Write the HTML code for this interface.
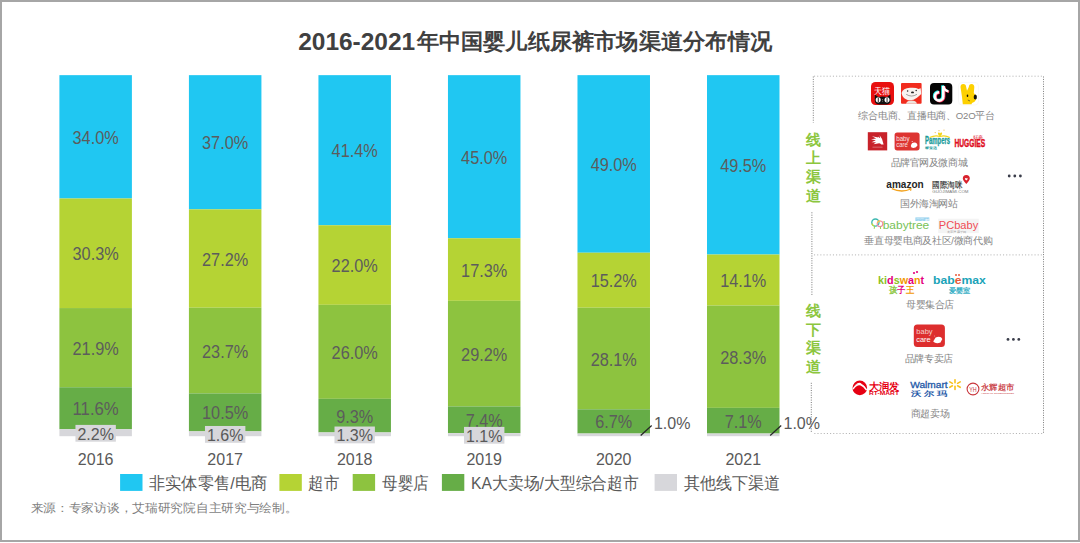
<!DOCTYPE html>
<html><head><meta charset="utf-8"><style>
html,body{margin:0;padding:0;background:#fff;width:1080px;height:543px;overflow:hidden;font-family:"Liberation Sans",sans-serif}
#frame{position:absolute;left:0;top:0;width:1076px;height:538px;border:2px solid #a6a6a6}
svg{position:absolute;left:0;top:0}
</style></head><body>
<div id="frame"></div>
<svg width="1080" height="543" viewBox="0 0 1080 543">
<text x="298.2" y="49.7" font-family="Liberation Sans" font-size="24" font-weight="bold" fill="#404040" textLength="117" lengthAdjust="spacingAndGlyphs">2016-2021</text><text x="416.5" y="49.1" font-family="Liberation Sans" font-size="22.2" font-weight="bold" fill="#404040" textLength="355.5" lengthAdjust="spacingAndGlyphs">年中国婴儿纸尿裤市场渠道分布情况</text>
<rect x="59.40" y="75.15" width="72.50" height="123.34" fill="#20c7f2"/>
<rect x="59.40" y="198.49" width="72.50" height="109.56" fill="#b5d334"/>
<rect x="59.40" y="308.06" width="72.50" height="79.19" fill="#8dc33f"/>
<rect x="59.40" y="387.25" width="72.50" height="41.95" fill="#66ad47"/>
<rect x="59.40" y="429.19" width="72.50" height="7.01" fill="#d7d7db"/>
<rect x="188.92" y="75.15" width="72.50" height="134.19" fill="#20c7f2"/>
<rect x="188.92" y="209.34" width="72.50" height="98.36" fill="#b5d334"/>
<rect x="188.92" y="307.70" width="72.50" height="85.70" fill="#8dc33f"/>
<rect x="188.92" y="393.40" width="72.50" height="37.97" fill="#66ad47"/>
<rect x="188.92" y="431.36" width="72.50" height="4.84" fill="#d7d7db"/>
<rect x="318.44" y="75.15" width="72.50" height="150.10" fill="#20c7f2"/>
<rect x="318.44" y="225.25" width="72.50" height="79.55" fill="#b5d334"/>
<rect x="318.44" y="304.80" width="72.50" height="94.02" fill="#8dc33f"/>
<rect x="318.44" y="398.82" width="72.50" height="33.63" fill="#66ad47"/>
<rect x="318.44" y="432.45" width="72.50" height="3.75" fill="#d7d7db"/>
<rect x="447.96" y="75.15" width="72.50" height="163.12" fill="#20c7f2"/>
<rect x="447.96" y="238.27" width="72.50" height="62.56" fill="#b5d334"/>
<rect x="447.96" y="300.83" width="72.50" height="105.59" fill="#8dc33f"/>
<rect x="447.96" y="406.41" width="72.50" height="26.76" fill="#66ad47"/>
<rect x="447.96" y="433.17" width="72.50" height="3.03" fill="#d7d7db"/>
<rect x="577.48" y="75.15" width="72.50" height="177.58" fill="#20c7f2"/>
<rect x="577.48" y="252.73" width="72.50" height="54.96" fill="#b5d334"/>
<rect x="577.48" y="307.70" width="72.50" height="101.61" fill="#8dc33f"/>
<rect x="577.48" y="409.31" width="72.50" height="24.23" fill="#66ad47"/>
<rect x="577.48" y="433.53" width="72.50" height="2.67" fill="#d7d7db"/>
<rect x="707.00" y="75.15" width="72.50" height="179.39" fill="#20c7f2"/>
<rect x="707.00" y="254.54" width="72.50" height="50.99" fill="#b5d334"/>
<rect x="707.00" y="305.53" width="72.50" height="102.33" fill="#8dc33f"/>
<rect x="707.00" y="407.86" width="72.50" height="25.67" fill="#66ad47"/>
<rect x="707.00" y="433.53" width="72.50" height="2.67" fill="#d7d7db"/>
<text x="95.65" y="143.82" font-family="Liberation Sans" font-size="17.6" fill="#5c5c5c" text-anchor="middle" textLength="46.2" lengthAdjust="spacingAndGlyphs">34.0%</text>
<text x="95.65" y="260.28" font-family="Liberation Sans" font-size="17.6" fill="#5c5c5c" text-anchor="middle" textLength="46.2" lengthAdjust="spacingAndGlyphs">30.3%</text>
<text x="95.65" y="354.65" font-family="Liberation Sans" font-size="17.6" fill="#5c5c5c" text-anchor="middle" textLength="46.2" lengthAdjust="spacingAndGlyphs">21.9%</text>
<text x="95.65" y="415.22" font-family="Liberation Sans" font-size="17.6" fill="#5c5c5c" text-anchor="middle" textLength="46.2" lengthAdjust="spacingAndGlyphs">11.6%</text>
<rect x="75.45" y="424.90" width="40.4" height="16.8" fill="#d7d7db"/>
<text x="95.65" y="439.60" font-family="Liberation Sans" font-size="16" fill="#595959" text-anchor="middle">2.2%</text>
<text x="95.65" y="464.6" font-family="Liberation Sans" font-size="16" fill="#595959" text-anchor="middle">2016</text>
<text x="225.17" y="149.25" font-family="Liberation Sans" font-size="17.6" fill="#5c5c5c" text-anchor="middle" textLength="46.2" lengthAdjust="spacingAndGlyphs">37.0%</text>
<text x="225.17" y="265.52" font-family="Liberation Sans" font-size="17.6" fill="#5c5c5c" text-anchor="middle" textLength="46.2" lengthAdjust="spacingAndGlyphs">27.2%</text>
<text x="225.17" y="357.55" font-family="Liberation Sans" font-size="17.6" fill="#5c5c5c" text-anchor="middle" textLength="46.2" lengthAdjust="spacingAndGlyphs">23.7%</text>
<text x="225.17" y="419.38" font-family="Liberation Sans" font-size="17.6" fill="#5c5c5c" text-anchor="middle" textLength="46.2" lengthAdjust="spacingAndGlyphs">10.5%</text>
<rect x="204.97" y="425.98" width="40.4" height="16.8" fill="#d7d7db"/>
<text x="225.17" y="440.68" font-family="Liberation Sans" font-size="16" fill="#595959" text-anchor="middle">1.6%</text>
<text x="225.17" y="464.6" font-family="Liberation Sans" font-size="16" fill="#595959" text-anchor="middle">2017</text>
<text x="354.69" y="157.20" font-family="Liberation Sans" font-size="17.6" fill="#5c5c5c" text-anchor="middle" textLength="46.2" lengthAdjust="spacingAndGlyphs">41.4%</text>
<text x="354.69" y="272.03" font-family="Liberation Sans" font-size="17.6" fill="#5c5c5c" text-anchor="middle" textLength="46.2" lengthAdjust="spacingAndGlyphs">22.0%</text>
<text x="354.69" y="358.81" font-family="Liberation Sans" font-size="17.6" fill="#5c5c5c" text-anchor="middle" textLength="46.2" lengthAdjust="spacingAndGlyphs">26.0%</text>
<text x="354.69" y="422.63" font-family="Liberation Sans" font-size="17.6" fill="#5c5c5c" text-anchor="middle" textLength="37.0" lengthAdjust="spacingAndGlyphs">9.3%</text>
<rect x="334.49" y="426.52" width="40.4" height="16.8" fill="#d7d7db"/>
<text x="354.69" y="441.22" font-family="Liberation Sans" font-size="16" fill="#595959" text-anchor="middle">1.3%</text>
<text x="354.69" y="464.6" font-family="Liberation Sans" font-size="16" fill="#595959" text-anchor="middle">2018</text>
<text x="484.21" y="163.71" font-family="Liberation Sans" font-size="17.6" fill="#5c5c5c" text-anchor="middle" textLength="46.2" lengthAdjust="spacingAndGlyphs">45.0%</text>
<text x="484.21" y="276.55" font-family="Liberation Sans" font-size="17.6" fill="#5c5c5c" text-anchor="middle" textLength="46.2" lengthAdjust="spacingAndGlyphs">17.3%</text>
<text x="484.21" y="360.62" font-family="Liberation Sans" font-size="17.6" fill="#5c5c5c" text-anchor="middle" textLength="46.2" lengthAdjust="spacingAndGlyphs">29.2%</text>
<text x="484.21" y="426.79" font-family="Liberation Sans" font-size="17.6" fill="#5c5c5c" text-anchor="middle" textLength="37.0" lengthAdjust="spacingAndGlyphs">7.4%</text>
<rect x="464.01" y="426.89" width="40.4" height="16.8" fill="#d7d7db"/>
<text x="484.21" y="441.59" font-family="Liberation Sans" font-size="16" fill="#595959" text-anchor="middle">1.1%</text>
<text x="484.21" y="464.6" font-family="Liberation Sans" font-size="16" fill="#595959" text-anchor="middle">2019</text>
<text x="613.73" y="170.94" font-family="Liberation Sans" font-size="17.6" fill="#5c5c5c" text-anchor="middle" textLength="46.2" lengthAdjust="spacingAndGlyphs">49.0%</text>
<text x="613.73" y="287.22" font-family="Liberation Sans" font-size="17.6" fill="#5c5c5c" text-anchor="middle" textLength="46.2" lengthAdjust="spacingAndGlyphs">15.2%</text>
<text x="613.73" y="365.50" font-family="Liberation Sans" font-size="17.6" fill="#5c5c5c" text-anchor="middle" textLength="46.2" lengthAdjust="spacingAndGlyphs">28.1%</text>
<text x="613.73" y="428.42" font-family="Liberation Sans" font-size="17.6" fill="#5c5c5c" text-anchor="middle" textLength="37.0" lengthAdjust="spacingAndGlyphs">6.7%</text>
<line x1="640.68" y1="435.5" x2="651.68" y2="425.5" stroke="#262626" stroke-width="1.25"/>
<text x="653.98" y="429" font-family="Liberation Sans" font-size="16" fill="#595959">1.0%</text>
<text x="613.73" y="464.6" font-family="Liberation Sans" font-size="16" fill="#595959" text-anchor="middle">2020</text>
<text x="743.25" y="171.85" font-family="Liberation Sans" font-size="17.6" fill="#5c5c5c" text-anchor="middle" textLength="46.2" lengthAdjust="spacingAndGlyphs">49.5%</text>
<text x="743.25" y="287.03" font-family="Liberation Sans" font-size="17.6" fill="#5c5c5c" text-anchor="middle" textLength="46.2" lengthAdjust="spacingAndGlyphs">14.1%</text>
<text x="743.25" y="363.69" font-family="Liberation Sans" font-size="17.6" fill="#5c5c5c" text-anchor="middle" textLength="46.2" lengthAdjust="spacingAndGlyphs">28.3%</text>
<text x="743.25" y="427.70" font-family="Liberation Sans" font-size="17.6" fill="#5c5c5c" text-anchor="middle" textLength="37.0" lengthAdjust="spacingAndGlyphs">7.1%</text>
<line x1="770.20" y1="435.5" x2="781.20" y2="425.5" stroke="#262626" stroke-width="1.25"/>
<text x="783.50" y="429" font-family="Liberation Sans" font-size="16" fill="#595959">1.0%</text>
<text x="743.25" y="464.6" font-family="Liberation Sans" font-size="16" fill="#595959" text-anchor="middle">2021</text>
<rect x="120.1" y="474" width="22.4" height="16.9" fill="#20c7f2"/>
<text x="148.8" y="489.2" font-family="Liberation Sans" font-size="16.8" fill="#595959" textLength="118.6" lengthAdjust="spacingAndGlyphs">非实体零售/电商</text>
<rect x="279.4" y="474" width="22.4" height="16.9" fill="#b5d334"/>
<text x="308.4" y="489.2" font-family="Liberation Sans" font-size="16.8" fill="#595959" textLength="31" lengthAdjust="spacingAndGlyphs">超市</text>
<rect x="352.7" y="474" width="22.4" height="16.9" fill="#8dc33f"/>
<text x="382.2" y="489.2" font-family="Liberation Sans" font-size="16.8" fill="#595959" textLength="46.8" lengthAdjust="spacingAndGlyphs">母婴店</text>
<rect x="441.9" y="474" width="22.4" height="16.9" fill="#66ad47"/>
<text x="471.1" y="489.2" font-family="Liberation Sans" font-size="16.8" fill="#595959" textLength="167.8" lengthAdjust="spacingAndGlyphs">KA大卖场/大型综合超市</text>
<rect x="654.6" y="474" width="22.4" height="16.9" fill="#d7d7db"/>
<text x="683.5" y="489.2" font-family="Liberation Sans" font-size="16.8" fill="#595959" textLength="96.3" lengthAdjust="spacingAndGlyphs">其他线下渠道</text>
<text x="30.5" y="511.8" font-family="Liberation Sans" font-size="12.4" fill="#7f7f7f" textLength="267" lengthAdjust="spacingAndGlyphs">来源：专家访谈，艾瑞研究院自主研究与绘制。</text>
<g id="panel">
<line x1="814" y1="76.2" x2="1043.5" y2="76.2" stroke="#b5b5b5" stroke-width="1" stroke-dasharray="1.1 2.05"/>
<line x1="814" y1="254.9" x2="1043.5" y2="254.9" stroke="#b5b5b5" stroke-width="1" stroke-dasharray="1.1 2.05"/>
<line x1="814.3" y1="433.5" x2="1043.5" y2="433.5" stroke="#b5b5b5" stroke-width="1" stroke-dasharray="1.1 2.05"/>
<line x1="813.3" y1="76.5" x2="813.3" y2="122.6" stroke="#7a7a7a" stroke-width="1" stroke-dasharray="1 1.4"/>
<line x1="811.9" y1="212.3" x2="811.9" y2="295" stroke="#7a7a7a" stroke-width="1" stroke-dasharray="1 1.4"/>
<line x1="811.3" y1="382.8" x2="811.3" y2="432.8" stroke="#7a7a7a" stroke-width="1" stroke-dasharray="1 1.4"/>
<line x1="1043.5" y1="76.5" x2="1043.5" y2="433" stroke="#7a7a7a" stroke-width="1" stroke-dasharray="1 1.4"/>
<g font-family="Liberation Sans" font-weight="bold" font-size="15" fill="#8cc63e" text-anchor="middle">
<text x="813.3" y="144.8">线</text><text x="813.3" y="163.3">上</text><text x="813.3" y="181.8">渠</text><text x="813.3" y="201.2">道</text>
<text x="813.3" y="316">线</text><text x="813.3" y="334.5">下</text><text x="813.3" y="353">渠</text><text x="813.3" y="372.2">道</text>
</g>
<g font-family="Liberation Sans" font-size="9.6" fill="#858585" text-anchor="middle" lengthAdjust="spacingAndGlyphs">
<text x="926.75" y="118.9" textLength="136.7">综合电商、直播电商、O2O平台</text>
<text x="929.05" y="166" textLength="76.9">品牌官网及微商城</text>
<text x="928.9" y="207" textLength="58">国外海淘网站</text>
<text x="928.55" y="244.4" textLength="128.3">垂直母婴电商及社区/微商代购</text>
<text x="930.35" y="308" textLength="48.3">母婴集合店</text>
<text x="929.05" y="361.5" textLength="48.7">品牌专卖店</text>
<text x="930.15" y="416.8" textLength="38.7">商超卖场</text>
</g>
<!-- row1 logos -->
<rect x="871" y="82" width="23" height="23" rx="4.5" fill="#e8100f"/>
<text x="882.4" y="93.6" font-family="Liberation Sans" font-size="8.6" fill="#fff" text-anchor="middle" textLength="16" lengthAdjust="spacingAndGlyphs">天猫</text>
<path d="M874.9 94.6 L878.2 96.9 Q882.6 96.2 887.1 96.9 L890.4 94.6 L890.6 101 Q890.2 104.4 886.2 104.4 L879.3 104.4 Q875.2 104.4 874.8 101 Z" fill="#111"/>
<ellipse cx="878.2" cy="99.8" rx="2.5" ry="2.6" fill="#fff"/><ellipse cx="887" cy="99.8" rx="2.5" ry="2.6" fill="#fff"/>
<rect x="877.8" y="97.6" width="0.9" height="4.4" fill="#111"/><rect x="886.6" y="97.6" width="0.9" height="4.4" fill="#111"/>
<rect x="882.3" y="99" width="0.7" height="0.7" fill="#ccc"/><rect x="882.3" y="100.8" width="0.7" height="0.7" fill="#ccc"/>
<rect x="901" y="83" width="20.6" height="20.8" rx="1" fill="#f12c1e"/>
<path d="M901.5 93 Q903 88 910 87.8 Q916 87.3 918.5 89 L920.7 88.2 L921.2 94 Q919 96 917 97.8 Q913 101 908 100.2 Q902.5 98.5 901.5 93 Z" fill="#f8f3f0"/>
<path d="M906 103.8 Q907 100.6 911.5 100.6 Q916 100.6 917 103.8 Z" fill="#efe3dc"/>
<circle cx="907.6" cy="91" r="0.75" fill="#222"/><circle cx="916.2" cy="90.6" r="0.75" fill="#222"/>
<ellipse cx="912.5" cy="92.4" rx="1.5" ry="0.95" fill="#222"/>
<path d="M906.2 94.3 Q911.5 97.8 917 94.3" stroke="#666" stroke-width="0.6" fill="none"/>
<rect x="930" y="83" width="22.3" height="21.6" rx="4" fill="#050505"/>
<g fill="none" stroke-linecap="butt">
<path d="M943.3 86 L943.3 96.4 A4.2 4.2 0 1 1 939.1 92.2" stroke="#25f4ee" stroke-width="2.8" transform="translate(-0.7,-0.5)"/>
<path d="M943.3 86 Q944.3 90.6 948.4 91.4" stroke="#25f4ee" stroke-width="2.4" transform="translate(-0.7,-0.5)"/>
<path d="M943.3 86 L943.3 96.4 A4.2 4.2 0 1 1 939.1 92.2" stroke="#fe2c55" stroke-width="2.8" transform="translate(0.7,0.5)"/>
<path d="M943.3 86 Q944.3 90.6 948.4 91.4" stroke="#fe2c55" stroke-width="2.4" transform="translate(0.7,0.5)"/>
<path d="M943.3 86 L943.3 96.4 A4.2 4.2 0 1 1 939.1 92.2" stroke="#fff" stroke-width="2.6"/>
<path d="M943.3 86 Q944.3 90.6 948.4 91.4" stroke="#fff" stroke-width="2.2"/>
</g>
<rect x="958.5" y="82.5" width="20" height="22.5" rx="3.5" fill="#fff" stroke="#f3f3f3" stroke-width="0.6"/>
<path d="M960.5 87 Q960.5 84 963.3 84 Q966 84 966.2 87 L967 90.8 L968.8 87 Q969 84 971.5 84 Q974.5 84 974.3 87.5 L973.8 93 Q976.5 95 976.3 98.5 Q975.5 102 972 103 L971.5 104.3 L962.8 104.3 L962 97 Z" fill="#fdd000"/>
<ellipse cx="975.3" cy="96.9" rx="1.6" ry="2.5" fill="#111"/>
<ellipse cx="967.5" cy="95.8" rx="0.8" ry="1.2" fill="#111"/>
<path d="M967.8 100 L970 101" stroke="#333" stroke-width="0.6"/>
<!-- row2 logos -->
<rect x="867.8" y="132.2" width="19.4" height="18.2" fill="#c8222a"/>
<path d="M883.6 144.5 Q883 139 879.6 135.3 L880.2 138.2 L877.8 136.4 L878.3 137.5 L872 136.2 L876.2 138.6 L871 139.2 L875.8 140.3 L871.5 142.2 L876 142.2 L873.5 144.3 L877.8 143.6 Q879.6 142.5 881.3 144.5 Z" fill="#fff"/>
<rect x="872.5" y="146.8" width="10" height="0.6" fill="#e89a9a"/>
<rect x="894.6" y="132.4" width="25" height="18" rx="2.6" fill="#dd3431"/>
<text x="896.2" y="140.6" font-family="Liberation Sans" font-size="6.6" fill="#fbe3e1" textLength="13.5" lengthAdjust="spacingAndGlyphs">baby</text>
<text x="896.2" y="146.9" font-family="Liberation Sans" font-size="6.6" fill="#fbe3e1" textLength="11.6" lengthAdjust="spacingAndGlyphs">care</text>
<path d="M910.8 146 Q911.5 142.5 914.5 142.6 Q917.6 143 917.3 145.6 Q916.5 148 913.5 148 Q911 147.8 910.8 146 Z" fill="#fff"/>
<circle cx="912.2" cy="141.5" r="0.5" fill="#fff"/>
<path d="M929.6 137.6 Q935 134.8 940 136.5 Q945 134.8 949.8 137.6" stroke="#f3d51a" stroke-width="1.1" fill="none"/>
<path d="M940 136.6 Q937 134 938.4 132.6 Q939.6 132 940 133.6 Q940.6 132 941.8 132.6 Q943 134 940 136.6 Z" fill="#f3d51a"/>
<circle cx="935.2" cy="132.6" r="0.6" fill="#f2b94a"/><circle cx="939" cy="130.7" r="0.6" fill="#f2b94a"/><circle cx="944" cy="130.1" r="0.6" fill="#f2b94a"/>
<text x="925.1" y="144.2" font-family="Liberation Sans" font-size="10" font-weight="bold" fill="#1a9b9a" stroke="#1a9b9a" stroke-width="0.3" textLength="25" lengthAdjust="spacingAndGlyphs">Pampers</text>
<text x="925.2" y="148.8" font-family="Liberation Sans" font-size="3.4" font-weight="bold" fill="#1a9b9a" textLength="11.8" lengthAdjust="spacingAndGlyphs">帮宝适</text>
<text x="954.4" y="146.8" font-family="Liberation Sans" font-size="10.2" font-weight="bold" fill="#e0101f" stroke="#e0101f" stroke-width="0.45" textLength="30.8" lengthAdjust="spacingAndGlyphs">HUGGIES</text>
<text x="973" y="139.3" font-family="Liberation Sans" font-size="5.3" fill="#e0101f" textLength="10.4" lengthAdjust="spacingAndGlyphs">好奇</text>
<!-- row3 -->
<text x="905" y="187.8" font-family="Liberation Sans" font-size="10.2" font-weight="bold" fill="#262626" text-anchor="middle" textLength="37.4" lengthAdjust="spacingAndGlyphs">amazon</text>
<path d="M891.8 188.6 Q901.5 193.2 910.8 189" stroke="#f3a21d" stroke-width="1.3" fill="none"/>
<path d="M908.6 188.3 L911.2 188.6 L910.6 191" stroke="#f3a21d" stroke-width="0.9" fill="none"/>
<text x="932.3" y="187.8" font-family="Liberation Sans" font-size="8.5" fill="#333" stroke="#333" stroke-width="0.15" textLength="30.2" lengthAdjust="spacingAndGlyphs">國際淘咪</text>
<text x="932.3" y="192.9" font-family="Liberation Sans" font-size="4.4" fill="#7a7a7a" textLength="36.2" lengthAdjust="spacingAndGlyphs">GUOJIMAMI.COM</text>
<path d="M966.3 184 Q962.8 180.5 962.8 178.6 A3.5 3.5 0 0 1 969.8 178.6 Q969.8 180.5 966.3 184 Z" fill="#d9232e"/>
<path d="M966.3 180.6 L965 179.2 Q964.6 178.2 965.6 178 Q966.1 178 966.3 178.6 Q966.5 178 967 178 Q968 178.2 967.6 179.2 Z" fill="#fff"/>
<g fill="#3a3d4a"><circle cx="1009.2" cy="176" r="1.4"/><circle cx="1014.8" cy="176" r="1.4"/><circle cx="1020.4" cy="176" r="1.4"/></g>
<!-- row4 -->
<circle cx="875.4" cy="222.6" r="3.6" fill="none" stroke="#3db8b0" stroke-width="1.3"/>
<path d="M871.9 223.5 A3.6 3.6 0 0 0 874 226" stroke="#c8d83a" stroke-width="1.3" fill="none"/>
<circle cx="880" cy="223.8" r="2.8" fill="none" stroke="#f08aa8" stroke-width="1.2"/>
<path d="M877.4 223 A2.8 2.8 0 0 1 880.5 221" stroke="#f5c54a" stroke-width="1.2" fill="none"/>
<path d="M874.6 226.2 L874.2 228.8 M880.4 226.6 L880.6 229" stroke="#9bd04a" stroke-width="1"/>
<text x="882.7" y="228.6" font-family="Liberation Sans" font-size="10.6" fill="#78c257" textLength="46.6" lengthAdjust="spacingAndGlyphs">babytree</text>
<rect x="915.4" y="217.4" width="13.9" height="3.6" fill="#9ad3ef"/>
<text x="916" y="220.6" font-family="Liberation Sans" font-size="3.4" fill="#fff" textLength="12.8" lengthAdjust="spacingAndGlyphs">宝宝树</text>
<rect x="938.2" y="218.7" width="40.6" height="14.4" fill="#f4f4f4"/>
<text x="938.8" y="229.2" font-family="Liberation Sans" font-size="11" fill="#f04d55" textLength="39.4" lengthAdjust="spacingAndGlyphs">PCbaby</text>
<text x="947" y="232.6" font-family="Liberation Sans" font-size="2.8" fill="#999" textLength="19" lengthAdjust="spacingAndGlyphs">太平洋亲子网</text>
<!-- section 2 -->
<text x="878.1" y="283.8" font-family="Liberation Sans" font-size="10.5" font-weight="bold" fill="#8cc63f" textLength="46.1" lengthAdjust="spacingAndGlyphs"><tspan fill="#8cc21f">ki</tspan><tspan fill="#e4007f">d</tspan><tspan fill="#8cc21f">s</tspan><tspan fill="#f39800">w</tspan><tspan fill="#e4007f">a</tspan><tspan fill="#f39800">n</tspan><tspan fill="#e4007f">t</tspan></text>
<circle cx="914" cy="273" r="1.1" fill="#e4007f"/><circle cx="917" cy="272" r="1.1" fill="#e4007f"/>
<text x="889" y="292.8" font-family="Liberation Sans" font-size="8.6" font-weight="bold" textLength="25.2" lengthAdjust="spacingAndGlyphs"><tspan fill="#8cc63f">孩</tspan><tspan fill="#e4007f">子</tspan><tspan fill="#f39800">王</tspan></text>
<text x="933.1" y="283.8" font-family="Liberation Sans" font-size="10.6" font-weight="bold" fill="#1aa3b8" textLength="52.8" lengthAdjust="spacingAndGlyphs">bab<tspan fill="#e85a3a">e</tspan>max</text>
<circle cx="956" cy="275" r="1" fill="#e85a3a"/><circle cx="959" cy="275" r="1" fill="#e85a3a"/>
<text x="948.7" y="292.8" font-family="Liberation Sans" font-size="7.4" font-weight="bold" fill="#3ab0c6" textLength="21.6" lengthAdjust="spacingAndGlyphs">爱婴室</text>
<rect x="913.8" y="324.6" width="31.1" height="22.3" rx="3.5" fill="#dd2e2e"/>
<text x="916.3" y="334.3" font-family="Liberation Sans" font-size="7" fill="#f4cfcc" textLength="16.3" lengthAdjust="spacingAndGlyphs">baby</text>
<text x="916.3" y="341.9" font-family="Liberation Sans" font-size="7" fill="#fff" textLength="14.4" lengthAdjust="spacingAndGlyphs">care</text>
<path d="M933.2 341.6 L935.6 337.6 Q938.5 336 941 337.2 L942.3 339 L940.5 342.5 Q937.5 343.6 935 342.8 Z" fill="#fff"/>
<circle cx="934.7" cy="336" r="0.4" fill="#fff"/>
<g fill="#3a3d4a"><circle cx="1008" cy="339.4" r="1.4"/><circle cx="1013.4" cy="339.4" r="1.4"/><circle cx="1018.8" cy="339.4" r="1.4"/></g>
<!-- row 3 section 2 -->
<circle cx="859.8" cy="387.9" r="7.3" fill="#e60012"/>
<path d="M852.6 389.4 Q856.5 382.5 861 384.6 Q864.5 386.5 866.8 389.8 Q864 385 860.5 383 Q856 381.8 852.6 389.4 Z" fill="#fff"/>
<path d="M853 389 Q857 383.5 860.8 384.8 Q863.8 386 866.6 390" stroke="#fff" stroke-width="1.5" fill="none"/>
<text x="868.5" y="389.6" font-family="Liberation Sans" font-size="9.6" font-weight="bold" fill="#e60012" textLength="30.8" lengthAdjust="spacingAndGlyphs">大润发</text>
<text x="869" y="395.4" font-family="Liberation Sans" font-size="4.6" font-weight="bold" fill="#e60012" textLength="30" lengthAdjust="spacingAndGlyphs">RT-MART</text>
<text x="910.2" y="387.8" font-family="Liberation Sans" font-size="9" fill="#1f5aa8" stroke="#1f5aa8" stroke-width="0.3" textLength="37.5" lengthAdjust="spacingAndGlyphs">Walmart</text>
<text x="910.5" y="396.3" font-family="Liberation Sans" font-size="7.2" font-weight="bold" fill="#1f5aa8" textLength="36.5" lengthAdjust="spacingAndGlyphs">沃 尔 玛</text>
<g stroke="#f8c21c" stroke-width="1.6" stroke-linecap="round">
<line x1="955" y1="379.8" x2="955" y2="382.8"/><line x1="955" y1="386.4" x2="955" y2="389.4"/>
<line x1="949.8" y1="381.9" x2="952.4" y2="383.4"/><line x1="957.6" y1="385.8" x2="960.2" y2="387.3"/>
<line x1="949.8" y1="387.3" x2="952.4" y2="385.8"/><line x1="957.6" y1="383.4" x2="960.2" y2="381.9"/>
</g>
<circle cx="973" cy="389" r="5.9" fill="none" stroke="#c8363c" stroke-width="1.1"/>
<text x="973" y="391.6" font-family="Liberation Sans" font-size="6.6" fill="#c8363c" text-anchor="middle" textLength="7.4" lengthAdjust="spacingAndGlyphs">YH</text>
<text x="981" y="390.4" font-family="Liberation Sans" font-size="8" fill="#c8363c" stroke="#c8363c" stroke-width="0.2" textLength="33.3" lengthAdjust="spacingAndGlyphs">永辉超市</text>
<text x="981" y="394" font-family="Liberation Sans" font-size="2.5" fill="#c8363c" textLength="33" lengthAdjust="spacingAndGlyphs">YONGHUI SUPERSTORES</text>
</g>

</svg>
</body></html>
